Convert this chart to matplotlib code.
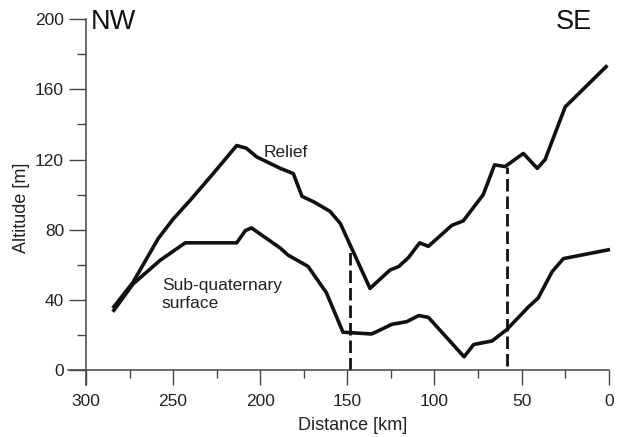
import matplotlib
matplotlib.use("Agg")
import matplotlib.pyplot as plt
from matplotlib.ticker import MultipleLocator

plt.rcParams['font.family'] = ['Liberation Sans', 'DejaVu Sans']

# Relief profile (distance km, altitude m)
relief_km = [284, 273, 258.5, 250, 240, 227, 213.5, 208, 202, 188.5, 181, 176,
             169.5, 160, 154, 148.5, 137, 125.5, 120.5, 115, 108.5, 103.5, 90,
             83.5, 72, 65.5, 59.5, 49, 41, 36.5, 25, 1.5]
relief_m = [36, 50, 75, 86, 97, 112, 128, 126.5, 121.5, 115, 112, 99,
            96, 90.5, 83.5, 71.5, 46.5, 57, 59, 64, 72.5, 70.5, 82.5,
            85, 100, 117, 116, 123.5, 115, 120, 150, 173]

# Sub-quaternary surface
subq_km = [284, 273, 257.5, 243, 213.5, 208.5, 205, 188.5, 184, 172.5, 162,
           152.5, 136, 124.5, 116, 109, 103.5, 83, 77.5, 67, 58.5, 46, 40.5,
           32.5, 26, 0.3]
subq_m = [34, 49, 62.5, 72.5, 72.5, 79.5, 81, 69.5, 65.5, 59, 44,
          21.5, 20.5, 26, 27.5, 31, 30, 7.5, 14.5, 16.5, 23, 36, 41,
          56, 63.5, 68.5]

# dashed verticals (km, top altitude, bottom altitude)
dash_km = [148.5, 58.5]
dash_top = [71.5, 116]
dash_bot = [0, 2]

fig = plt.figure(figsize=(6.28, 4.37), dpi=100)
ax = fig.add_axes([0.1083, 0.119, 0.861, 0.8368])

ax.plot(relief_km, relief_m, color='#111111', lw=2.6, solid_joinstyle='round', clip_on=False)
ax.plot(subq_km, subq_m, color='#111111', lw=2.6, solid_joinstyle='round', clip_on=False)
for xk, yt, yb in zip(dash_km, dash_top, dash_bot):
    ax.plot([xk, xk], [yb, yt], color='#111111', lw=2.0, dashes=(4.5, 1.8))

ax.set_xlim(310.3, 0)
ax.set_ylim(-8.6, 200)

ax.spines['top'].set_visible(False)
ax.spines['right'].set_visible(False)
ax.spines['left'].set_position(('data', 300))
ax.spines['bottom'].set_position(('data', 0))
for s in ['left', 'bottom']:
    ax.spines[s].set_color('#444444')
    ax.spines[s].set_linewidth(1.1)

ax.xaxis.set_major_locator(MultipleLocator(50))
ax.xaxis.set_minor_locator(MultipleLocator(25))
ax.yaxis.set_major_locator(MultipleLocator(40))
ax.yaxis.set_minor_locator(MultipleLocator(20))
ax.tick_params(axis='x', which='major', direction='out', length=10.8, width=1.0,
               color='#444444', labelsize=12.5, labelcolor='#222222', pad=6.3)
ax.tick_params(axis='x', which='minor', direction='out', length=5.8, width=1.0, color='#444444')
ax.tick_params(axis='y', which='major', direction='out', length=12.2, width=1.0,
               color='#444444', labelsize=12.5, labelcolor='#222222', pad=3.6)
ax.tick_params(axis='y', which='minor', direction='out', length=6.5, width=1.0, color='#444444')

ax.text(198.3, 121.5, 'Relief', fontsize=12.5, color='#222222', ha='left', va='baseline')
ax.text(256.4, 45.6, 'Sub-quaternary', fontsize=12.5, color='#222222', ha='left', va='baseline')
ax.text(256.4, 35.4, 'surface', fontsize=12.5, color='#222222', ha='left', va='baseline')

fig.text(90.7 / 628, 1 - 29 / 437, 'NW', fontsize=19.5, color='#111111', ha='left', va='baseline')
fig.text(556 / 628, 1 - 29 / 437, 'SE', fontsize=19.5, color='#111111', ha='left', va='baseline')

fig.text(353 / 628, 1 - 430 / 437, 'Distance [km]', fontsize=13, color='#222222',
         ha='center', va='baseline')
fig.text(22 / 628, 1 - 208 / 437, 'Altitude [m]', fontsize=13, color='#222222',
         ha='center', va='center', rotation=90)

fig.savefig('out.png', dpi=100)
